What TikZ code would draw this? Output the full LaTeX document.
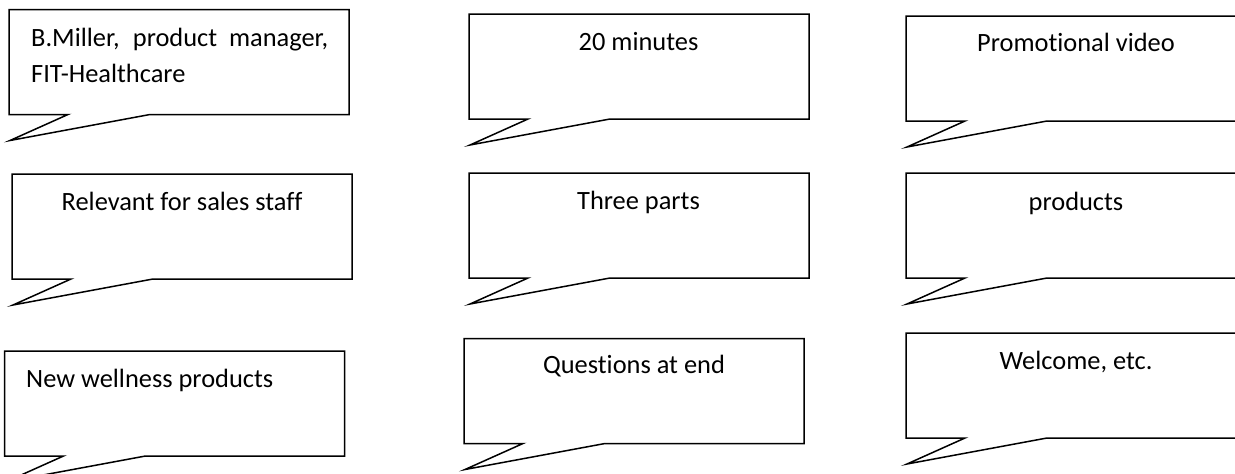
\documentclass[tikz,border=0pt]{standalone}
\usepackage{fontspec}
\setmainfont{Carlito}[Ligatures=NoCommon]
\begin{document}
\begin{tikzpicture}[x=1pt,y=-1pt,
  bubble/.style={draw=black,line width=1.5pt,line join=miter,fill=white},
  txt/.style={inner sep=0pt,font=\fontsize{26.4}{37}\selectfont,text=black},
  callout/.pic={\draw[bubble] (0,0) -- (340,0) -- (340,105) -- (141,105) -- (1,131) -- (59,105) -- (0,105) -- cycle;}]
\useasboundingbox (0,0) rectangle (1235,474);
\clip (0,0) rectangle (1235,474);
% bubbles
\pic at (9,9.5) {callout};
\pic at (469,14) {callout};
\pic at (906,16) {callout};
\pic at (12,174) {callout};
\pic at (469,173) {callout};
\pic at (906,173) {callout};
\pic at (4.5,351) {callout};
\pic at (464,338.5) {callout};
\pic at (906,333) {callout};
% texts
\node[txt,anchor=base west] (t1a) at (31,46) {\makebox[297pt][s]{B.Miller, product manager,}};
\node[txt,anchor=base west] (t1b) at (31,82.7) {FIT-Healthcare};
\node[txt,anchor=base] (t2) at (638.5,50) {20 minutes};
\node[txt,anchor=base] (t3) at (1076,51.5) {Promotional video};
\node[txt,anchor=base] (t4) at (182,210.5) {Relevant for sales staff};
\node[txt,anchor=base] (t5) at (638.5,209.3) {Three parts};
\node[txt,anchor=base] (t6) at (1076,210) {products};
\node[txt,anchor=base west] (t7) at (26,387.3) {New wellness products};
\node[txt,anchor=base] (t8) at (634,373.3) {Questions at end};
\node[txt,anchor=base] (t9) at (1076,369.3) {Welcome, etc.};
\end{tikzpicture}
\end{document}
